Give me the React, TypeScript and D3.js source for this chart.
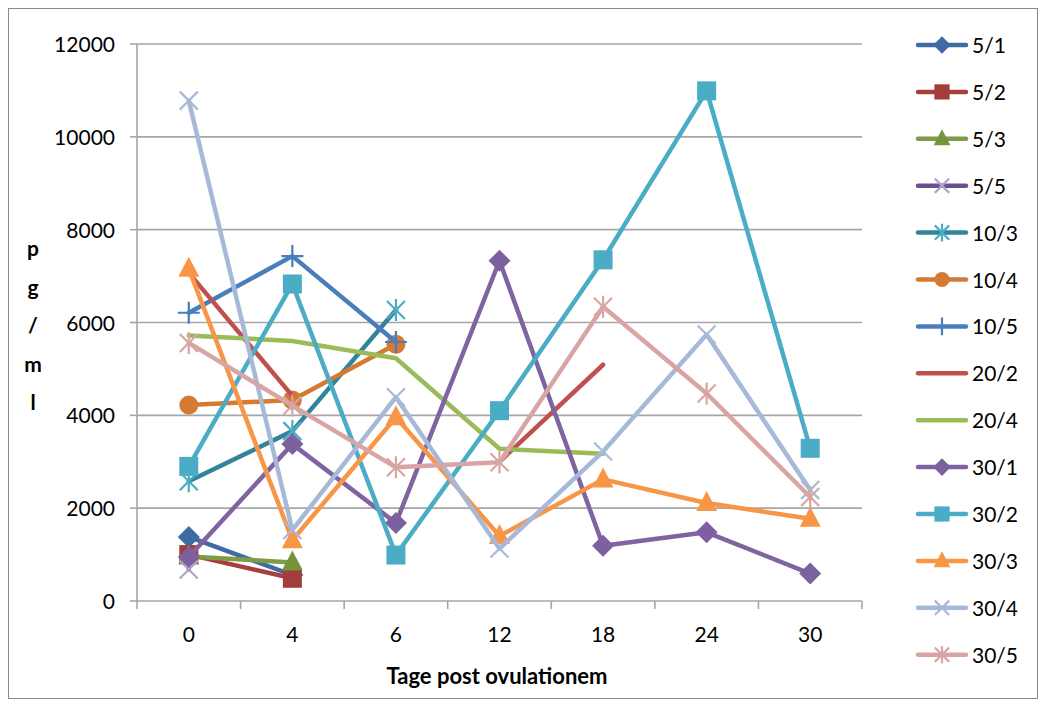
import React from "react";
import * as d3 from "d3";

const categories = ["0", "4", "6", "12", "18", "24", "30"];
const yTicks = [0, 2000, 4000, 6000, 8000, 10000, 12000];

const s5_1 = [1380, 560, null, null, null, null, null];
const s5_2 = [1000, 490, null, null, null, null, null];
const s5_3 = [960, 830, null, null, null, null, null];
const s5_5 = [680, null, null, null, null, null, null];
const s10_3 = [2580, 3660, 6270, null, null, null, null];
const s10_4 = [4220, 4330, 5530, null, null, null, null];
const s10_5 = [6210, 7430, 5580, null, null, null, null];
const s20_2 = [7070, 4420, null, 3000, 5090, null, null];
const s20_4 = [5720, 5600, 5230, 3280, 3170, null, null];
const s30_1 = [950, 3380, 1680, 7330, 1190, 1480, 590];
const s30_2 = [2900, 6830, 990, 4100, 7350, 10990, 3290];
const s30_3 = [7160, 1310, 3960, 1400, 2620, 2110, 1770];
const s30_4 = [10780, 1530, 4390, 1130, 3220, 5740, 2390];
const s30_5 = [5560, 4210, 2880, 2990, 6340, 4470, 2240];

type Marker = "diamond" | "square" | "triangle" | "x" | "asterisk" | "circle" | "plus" | "none";

const seriesNames = ["5/1", "5/2", "5/3", "5/5", "10/3", "10/4", "10/5", "20/2", "20/4", "30/1", "30/2", "30/3", "30/4", "30/5"];
const seriesValues = [s5_1, s5_2, s5_3, s5_5, s10_3, s10_4, s10_5, s20_2, s20_4, s30_1, s30_2, s30_3, s30_4, s30_5];
const seriesColors = ["#3E6BA3", "#A6403D", "#7F9B45", "#6B5090", "#31849B", "#D47A33", "#4A7EBB", "#C0504D", "#9BBB59", "#8064A2", "#4BACC6", "#F79646", "#A7B9D9", "#D9A5A4"];
const markerColors = ["#3E6BA3", "#A23D3A", "#77933C", "#B3A2C7", "#4BACC6", "#D47A33", "#4A7EBB", "#C0504D", "#9BBB59", "#7D60A0", "#4BACC6", "#F79646", "#A7B9D9", "#D9A5A4"];
const seriesMarkers: Marker[] = ["diamond", "square", "triangle", "x", "asterisk", "circle", "plus", "none", "none", "diamond", "square", "triangle", "x", "asterisk"];

const FONT = "Lato, 'Open Sans', sans-serif";

function MarkerShape({ type, color, cx, cy, s = 1 }: { type: Marker; color: string; cx: number; cy: number; s?: number }) {
  switch (type) {
    case "diamond":
      return <path d={`M${cx},${cy - 11 * s}L${cx + 11 * s},${cy}L${cx},${cy + 11 * s}L${cx - 11 * s},${cy}Z`} fill={color} />;
    case "square":
      return <rect x={cx - 9.5 * s} y={cy - 9.5 * s} width={19 * s} height={19 * s} fill={color} />;
    case "triangle":
      return <path d={`M${cx},${cy - 12 * s}L${cx + 10.5 * s},${cy + 8 * s}L${cx - 10.5 * s},${cy + 8 * s}Z`} fill={color} />;
    case "circle":
      return <circle cx={cx} cy={cy} r={9.5 * s} fill={color} />;
    case "x":
      return (
        <path
          d={`M${cx - 9 * s},${cy - 9 * s}L${cx + 9 * s},${cy + 9 * s}M${cx - 9 * s},${cy + 9 * s}L${cx + 9 * s},${cy - 9 * s}`}
          stroke={color}
          strokeWidth={2.2}
          fill="none"
        />
      );
    case "asterisk":
      return (
        <path
          d={`M${cx - 9 * s},${cy - 9 * s}L${cx + 9 * s},${cy + 9 * s}M${cx - 9 * s},${cy + 9 * s}L${cx + 9 * s},${cy - 9 * s}M${cx},${cy - 11 * s}L${cx},${cy + 11 * s}`}
          stroke={color}
          strokeWidth={2.2}
          fill="none"
        />
      );
    case "plus":
      return (
        <path
          d={`M${cx - 11 * s},${cy}L${cx + 11 * s},${cy}M${cx},${cy - 11 * s}L${cx},${cy + 11 * s}`}
          stroke={color}
          strokeWidth={2.2}
          fill="none"
        />
      );
    default:
      return null;
  }
}

export default function App() {
  const left = 137;
  const right = 862;
  const top = 44;
  const bottom = 601;

  const x = d3.scaleBand<string>().domain(categories).range([left, right]).paddingInner(0).paddingOuter(0);
  const y = d3.scaleLinear().domain([0, 12000]).range([bottom, top]);
  const cx = (c: string) => (x(c) as number) + x.bandwidth() / 2;

  const lineGen = d3
    .line<number | null>()
    .defined((d) => d !== null)
    .x((_, i) => cx(categories[i]))
    .y((d) => y(d as number));

  const boundaries = categories.map((c) => x(c) as number).concat([right]);

  const legendX = 918;
  const legendY0 = 45;
  const legendStep = 46.9;

  return (
    <svg width={1043} height={702} style={{ position: "absolute", left: 0, top: 0 }} fontFamily={FONT}>
      <rect x={0} y={0} width={1043} height={702} fill="#fff" />
      <rect x={8.5} y={8.5} width={1029} height={690} fill="none" stroke="#888" strokeWidth={1} />

      {/* gridlines */}
      {yTicks.filter((t) => t > 0).map((t) => (
        <line key={t} x1={left} x2={right} y1={y(t)} y2={y(t)} stroke="#A6A6A6" strokeWidth={1.6} />
      ))}
      {/* y axis */}
      <line x1={left} x2={left} y1={top} y2={bottom} stroke="#A6A6A6" strokeWidth={1.6} />
      {yTicks.map((t) => (
        <g key={"yt" + t}>
          <line x1={left - 7} x2={left} y1={y(t)} y2={y(t)} stroke="#A6A6A6" strokeWidth={1.6} />
          <text x={115} y={y(t) + 8} textAnchor="end" fontSize={21} fill="#000">
            {t}
          </text>
        </g>
      ))}
      {/* x axis */}
      <line x1={left} x2={right} y1={bottom} y2={bottom} stroke="#A6A6A6" strokeWidth={1.6} />
      {boundaries.map((b, i) => (
        <line key={"xt" + i} x1={b} x2={b} y1={bottom} y2={bottom + 8} stroke="#A6A6A6" strokeWidth={1.6} />
      ))}
      {categories.map((c) => (
        <text key={"xl" + c} x={cx(c)} y={642} textAnchor="middle" fontSize={21} fill="#000">
          {c}
        </text>
      ))}

      {/* axis titles */}
      <text x={497} y={684} textAnchor="middle" fontSize={22} fontWeight="bold" fill="#000">
        Tage post ovulationem
      </text>
      {["p", "g", "/", "m", "l"].map((ch, i) => (
        <text key={"yl" + i} x={33} y={256 + i * 38.5} textAnchor="middle" fontSize={21} fontWeight="bold" fill="#000">
          {ch}
        </text>
      ))}

      {/* series */}
      {seriesValues.map((vals, si) => (
        <g key={"s" + si}>
          <path
            d={lineGen(vals) || ""}
            fill="none"
            stroke={seriesColors[si]}
            strokeWidth={4.5}
            strokeLinejoin="round"
            strokeLinecap="round"
          />
          {vals.map((v, i) =>
            v === null ? null : (
              <MarkerShape key={i} type={seriesMarkers[si]} color={markerColors[si]} cx={cx(categories[i])} cy={y(v)} />
            )
          )}
        </g>
      ))}

      {/* legend */}
      {seriesNames.map((name, i) => {
        const ly = legendY0 + i * legendStep;
        return (
          <g key={"lg" + i}>
            <line x1={legendX} x2={legendX + 48} y1={ly} y2={ly} stroke={seriesColors[i]} strokeWidth={4.5} strokeLinecap="round" />
            <MarkerShape type={seriesMarkers[i]} color={markerColors[i]} cx={legendX + 24} cy={ly} s={0.8} />
            <text x={972} y={ly + 8} fontSize={21} fill="#000">
              {name}
            </text>
          </g>
        );
      })}
    </svg>
  );
}
